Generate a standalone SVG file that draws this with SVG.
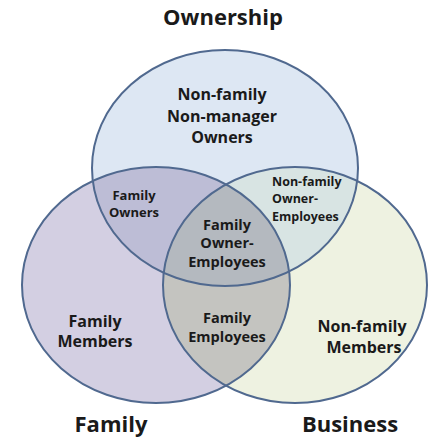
<svg xmlns="http://www.w3.org/2000/svg" width="445" height="447" viewBox="0 0 445 447">
<style>
text{font-family:"Open Sans","Liberation Sans",sans-serif;font-weight:700;fill:#1a1a1a;text-anchor:middle}
.s{stroke:#50698f;stroke-width:2;fill:none}
</style>
<defs>
<clipPath id="cO"><ellipse cx="225" cy="168" rx="133" ry="118"/></clipPath>
<clipPath id="cF"><ellipse cx="156" cy="285" rx="134" ry="118"/></clipPath>
<clipPath id="cB"><ellipse cx="295" cy="285" rx="132" ry="118"/></clipPath>
</defs>
<rect width="445" height="447" fill="#ffffff"/>
<g id="ownership">
<ellipse cx="225" cy="168" rx="133" ry="118" fill="#dde7f3"/>
</g>
<g id="family">
<ellipse cx="156" cy="285" rx="134" ry="118" fill="#d3cfe2"/>
</g>
<g id="business">
<ellipse cx="295" cy="285" rx="132" ry="118" fill="#eef2e1"/>
</g>
<g id="family-owners" clip-path="url(#cO)">
<ellipse cx="156" cy="285" rx="134" ry="118" fill="#bdbdd6"/>
</g>
<g id="nonfamily-owner-employees" clip-path="url(#cO)">
<ellipse cx="295" cy="285" rx="132" ry="118" fill="#d8e4e3"/>
</g>
<g id="family-employees" clip-path="url(#cF)">
<ellipse cx="295" cy="285" rx="132" ry="118" fill="#c4c4c0"/>
</g>
<g id="family-owner-employees" clip-path="url(#cF)">
<g clip-path="url(#cB)">
<ellipse cx="225" cy="168" rx="133" ry="118" fill="#b4b9bf"/>
</g>
</g>
<g id="outlines">
<ellipse class="s" cx="225" cy="168" rx="133" ry="118"/>
<ellipse class="s" cx="156" cy="285" rx="134" ry="118"/>
<ellipse class="s" cx="295" cy="285" rx="132" ry="118"/>
</g>
<g id="labels">
<text x="223" y="25" font-size="22">Ownership</text>
<text x="111" y="432" font-size="22">Family</text>
<text x="350" y="432" font-size="22">Business</text>
<text x="222" y="100" font-size="16">Non-family</text>
<text x="222" y="122" font-size="16">Non-manager</text>
<text x="222" y="143" font-size="16">Owners</text>
<text x="134" y="200" font-size="13">Family</text>
<text x="134" y="217" font-size="13">Owners</text>
<text x="272" y="186" font-size="12.5" style="text-anchor:start">Non-family</text>
<text x="272" y="203" font-size="12.5" style="text-anchor:start">Owner-</text>
<text x="272" y="221" font-size="12.5" style="text-anchor:start">Employees</text>
<text x="227" y="230" font-size="14.5">Family</text>
<text x="227" y="248" font-size="14.5">Owner-</text>
<text x="227" y="267" font-size="14.5">Employees</text>
<text x="95" y="327" font-size="16">Family</text>
<text x="95" y="347" font-size="16">Members</text>
<text x="227" y="323" font-size="14.5">Family</text>
<text x="227" y="342" font-size="14.5">Employees</text>
<text x="362" y="332" font-size="16">Non-family</text>
<text x="364" y="353" font-size="16">Members</text>
</g>
</svg>
